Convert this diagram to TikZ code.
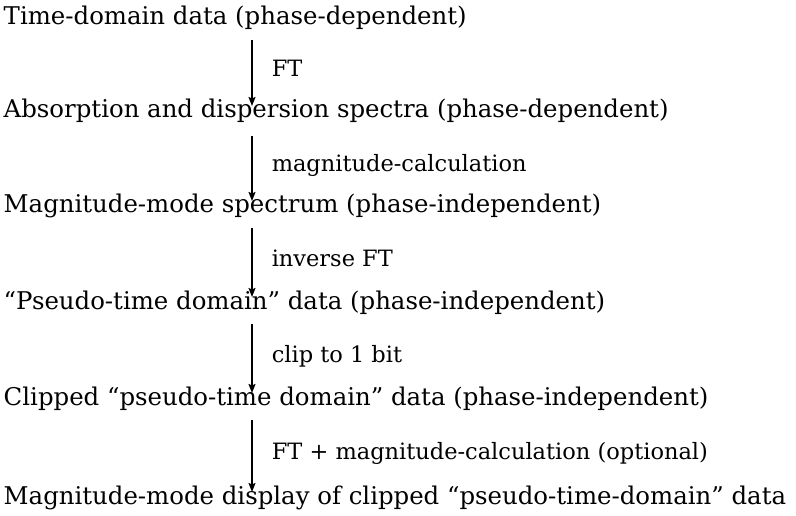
\documentclass[tikz,border=0pt]{standalone}
\usepackage{fontspec}
\setmainfont{DejaVu Serif}
\usetikzlibrary{arrows.meta, positioning, calc}
\tikzset{
    flowchain/.style={>={Stealth[length=9pt, width=7pt, inset=1.5pt]}, line width=1.5pt,
        font=\fontsize{24.4}{29}\selectfont, x=1pt, y=1pt},
    stage/.style={anchor=base west, inner sep=0pt},
    % name of the operation, put to the right of its arrow
    oplabel/.style={midway, anchor=west, xshift=19pt, yshift=2pt, inner sep=0pt,
        font=\fontsize{22.5}{27}\selectfont, text height=16pt, text depth=5pt},
}

\begin{document}
\begin{tikzpicture}[flowchain]
    \useasboundingbox (0,0) rectangle (796,-516);
    \coordinate (ax) at (252,0);

    \node[stage] (td) at (3,-25) {Time-domain data (phase-dependent)};
    \node[stage] (ad) at (3,-118) {Absorption and dispersion spectra (phase-dependent)};
    \node[stage] (mm) at (3,-213) {Magnitude-mode spectrum (phase-independent)};
    \node[stage] (pt) at (3,-309) {``Pseudo-time domain'' data (phase-independent)};
    \node[stage] (cp) at (3,-405) {Clipped ``pseudo-time domain'' data (phase-independent)};
    \node[stage] (md) at (3,-504) {Magnitude-mode display of clipped ``pseudo-time-domain'' data};

    \draw[->] ($(td.base -| ax)+(0,-15)$) -- ($(ad.base -| ax)+(0,12)$) node[oplabel] {FT};
    \draw[->] ($(ad.base -| ax)+(0,-18)$) -- ($(mm.base -| ax)+(0,12)$) node[oplabel] {magnitude-calculation};
    \draw[->] ($(mm.base -| ax)+(0,-15)$) -- ($(pt.base -| ax)+(0,12)$) node[oplabel] {inverse FT};
    \draw[->] ($(pt.base -| ax)+(0,-15)$) -- ($(cp.base -| ax)+(0,12)$) node[oplabel] {clip to 1 bit};
    \draw[->] ($(cp.base -| ax)+(0,-15)$) -- ($(md.base -| ax)+(0,12)$) node[oplabel] {FT + magnitude-calculation (optional)};
\end{tikzpicture}
\end{document}
